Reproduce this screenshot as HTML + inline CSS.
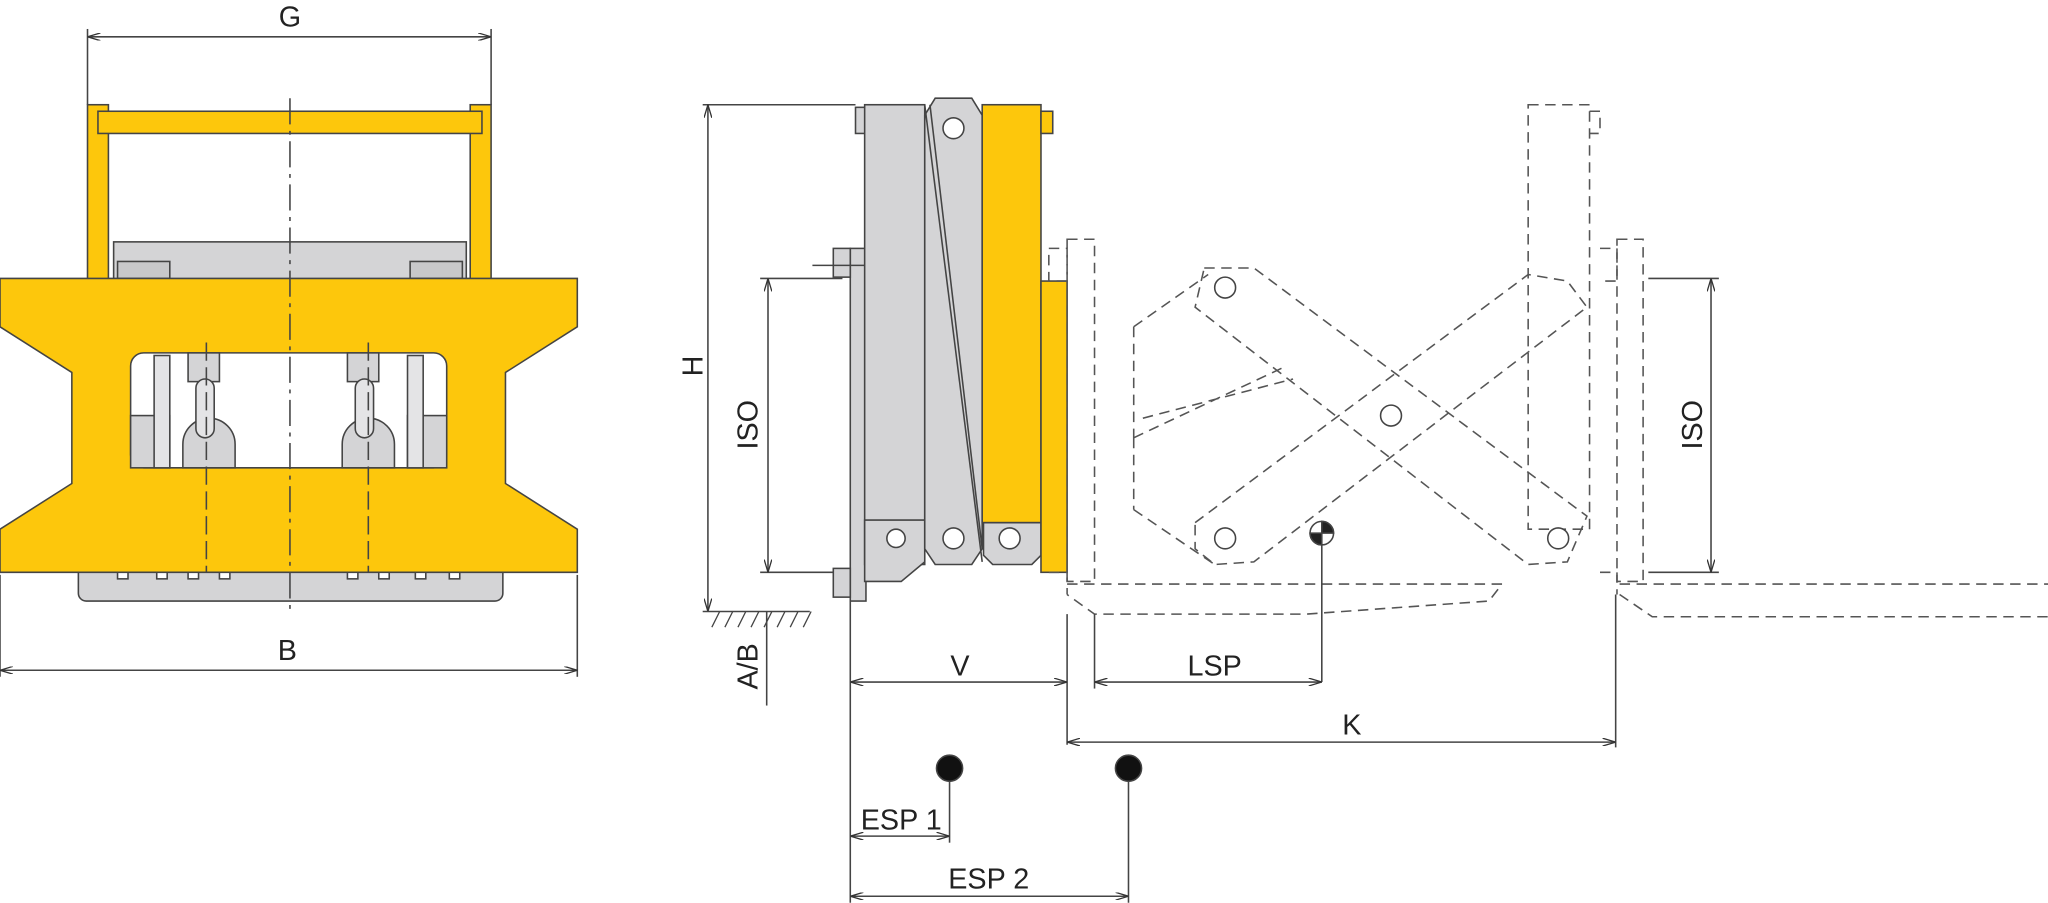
<!DOCTYPE html>
<html><head><meta charset="utf-8"><style>
html,body{margin:0;padding:0;background:#fff;width:2048px;height:903px;overflow:hidden}
svg{display:block}
text{font-family:"Liberation Sans",sans-serif;font-size:22px;fill:#222}
</style></head><body>
<svg width="2048" height="903" viewBox="0 0 1568 691" xmlns="http://www.w3.org/2000/svg">
<defs>
<marker id="a" markerWidth="10" markerHeight="6" refX="10" refY="3" orient="auto-start-reverse" markerUnits="userSpaceOnUse"><path d="M0,0 L10,3 L0,6" fill="none" stroke="#333" stroke-width="1"/></marker>
</defs>
<g stroke="#444" stroke-width="1.2">
<!-- LEFT VIEW -->
<line x1="67" y1="22" x2="67" y2="80"/><line x1="376" y1="22" x2="376" y2="80"/>
<line x1="67" y1="28" x2="376" y2="28" marker-start="url(#a)" marker-end="url(#a)"/>
<rect x="87" y="185" width="270" height="30" fill="#d4d4d6"/>
<rect x="90" y="200" width="40" height="13" fill="#c8c8ca"/><rect x="314" y="200" width="40" height="13" fill="#c8c8ca"/>
<rect x="67" y="80" width="16" height="135" fill="#fdc70c"/>
<rect x="360" y="80" width="16" height="135" fill="#fdc70c"/>
<rect x="75" y="85" width="294" height="17" fill="#fdc70c"/>
<rect x="60" y="430" width="325" height="30" rx="6" fill="#d4d4d6"/>
<path d="M0,213 H442 V250 L387,285 V370 L442,405 V438 H0 V405 L55,370 V285 L0,250 Z" fill="#fdc70c"/>
<rect x="100" y="270" width="242" height="88" rx="10" fill="#fff"/>
<rect x="100" y="318" width="30" height="40" fill="#d4d4d6"/><rect x="312" y="318" width="30" height="40" fill="#d4d4d6"/>
<rect x="118" y="272" width="12" height="86" fill="#e4e4e6"/><rect x="312" y="272" width="12" height="86" fill="#e4e4e6"/>
<rect x="144" y="270" width="24" height="22" fill="#d4d4d6"/><rect x="266" y="270" width="24" height="22" fill="#d4d4d6"/>
<path d="M140,358 V340 a20,20 0 0 1 40,0 V358 Z" fill="#d4d4d6"/>
<path d="M262,358 V340 a20,20 0 0 1 40,0 V358 Z" fill="#d4d4d6"/>
<rect x="150" y="290" width="14" height="45" rx="7" fill="#e4e4e6"/><rect x="272" y="290" width="14" height="45" rx="7" fill="#e4e4e6"/>
<rect x="90" y="438" width="8" height="5" fill="#fff"/><rect x="120" y="438" width="8" height="5" fill="#fff"/><rect x="144" y="438" width="8" height="5" fill="#fff"/><rect x="168" y="438" width="8" height="5" fill="#fff"/>
<rect x="266" y="438" width="8" height="5" fill="#fff"/><rect x="290" y="438" width="8" height="5" fill="#fff"/><rect x="318" y="438" width="8" height="5" fill="#fff"/><rect x="344" y="438" width="8" height="5" fill="#fff"/>
<line x1="222" y1="75" x2="222" y2="470" stroke-dasharray="20,5,3,5"/>
<line x1="158" y1="262" x2="158" y2="438" stroke-dasharray="14,5"/>
<line x1="282" y1="262" x2="282" y2="438" stroke-dasharray="14,5"/>
<line x1="0" y1="440" x2="0" y2="518"/><line x1="442" y1="440" x2="442" y2="518"/>
<line x1="0" y1="513" x2="442" y2="513" marker-start="url(#a)" marker-end="url(#a)"/>

<!-- SIDE VIEW -->
<line x1="538" y1="80" x2="655" y2="80"/>
<line x1="542" y1="80" x2="542" y2="468" marker-start="url(#a)" marker-end="url(#a)"/>
<line x1="538" y1="468" x2="620" y2="468"/>
<path d="M545,480 l6,-12 M555,480 l6,-12 M565,480 l6,-12 M575,480 l6,-12 M585,480 l6,-12 M595,480 l6,-12 M605,480 l6,-12 M615,480 l6,-12" stroke-width="1"/>
<line x1="582" y1="213" x2="645" y2="213"/><line x1="582" y1="438" x2="645" y2="438"/>
<line x1="588" y1="213" x2="588" y2="438" marker-start="url(#a)" marker-end="url(#a)"/>
<line x1="587" y1="468" x2="587" y2="540"/>
<rect x="651" y="190" width="12" height="270" fill="#d4d4d6"/>
<rect x="638" y="190" width="13" height="22" fill="#d4d4d6"/><rect x="638" y="435" width="13" height="22" fill="#d4d4d6"/>
<line x1="622" y1="203" x2="675" y2="203"/>
<rect x="655" y="82" width="8" height="20" fill="#d4d4d6"/>
<rect x="662" y="80" width="46" height="352" fill="#d4d4d6"/>
<path d="M662,398 H708 V430 L690,445 H662 Z" fill="#d4d4d6"/>
<circle cx="686" cy="412" r="7" fill="#fff"/>
<path d="M716,75 H744 L752,88 V420 L744,432 H716 L708,420 V88 Z" fill="#d4d4d6"/>
<line x1="708" y1="80" x2="752" y2="430"/><line x1="712" y1="80" x2="752" y2="420"/>
<circle cx="730" cy="98" r="8" fill="#fff"/><circle cx="730" cy="412" r="8" fill="#fff"/>
<rect x="752" y="80" width="45" height="320" fill="#fdc70c"/>
<rect x="797" y="85" width="9" height="17" fill="#fdc70c"/>
<path d="M753,400 H797 V425 L790,432 H760 L753,425 Z" fill="#d4d4d6"/>
<circle cx="773" cy="412" r="8" fill="#fff"/>
<rect x="797" y="215" width="20" height="223" fill="#fdc70c"/>
<line x1="651" y1="460" x2="651" y2="691"/>
</g>
<g stroke="#555" stroke-width="1.2" fill="none" stroke-dasharray="8,5">
<path d="M817,183 H838 V445 H817 Z"/>
<path d="M803,190 H817 V215 H803 Z"/>
<path d="M803,438 H817 V455"/>
<path d="M817,447 H1150 L1140,460 L1000,470 H838 L817,455"/>
<path d="M922,205 L960,205 L1215,395 L1200,430 L1170,432 L915,235 Z"/>
<path d="M915,400 L1170,210 L1200,215 L1215,235 L960,430 L930,432 L915,420 Z"/>
<path d="M868,250 L925,210 M868,250 V335 M868,335 L985,280 M875,320 L990,290 M868,390 L930,432 M868,335 V390"/>
<path d="M1170,80 H1217 V405 H1170 Z"/>
<path d="M1217,85 H1225 V102 H1217"/>
<path d="M1238,183 H1258 V445 H1238 Z"/>
<path d="M1225,190 H1238 V215 H1225 M1225,438 H1238 V455"/>
<path d="M1240,447 H1568 M1240,455 L1265,472 H1568"/>
</g>
<g stroke="#444" stroke-width="1.2">
<circle cx="938" cy="220" r="8" fill="#fff"/><circle cx="1065" cy="318" r="8" fill="#fff"/>
<circle cx="938" cy="412" r="8" fill="#fff"/><circle cx="1193" cy="412" r="8" fill="#fff"/>
<circle cx="1012" cy="408" r="9" fill="#fff"/>
<path d="M1012,399 A9,9 0 0 1 1021,408 H1012 Z M1012,417 A9,9 0 0 1 1003,408 H1012 Z" fill="#222"/>
<line x1="1012" y1="417" x2="1012" y2="522"/>
<line x1="817" y1="470" x2="817" y2="570"/><line x1="838" y1="470" x2="838" y2="527"/>
<line x1="1237" y1="455" x2="1237" y2="572"/>
<line x1="651" y1="522" x2="817" y2="522" marker-start="url(#a)" marker-end="url(#a)"/>
<line x1="838" y1="522" x2="1012" y2="522" marker-start="url(#a)" marker-end="url(#a)"/>
<line x1="817" y1="568" x2="1237" y2="568" marker-start="url(#a)" marker-end="url(#a)"/>
<line x1="727" y1="588" x2="727" y2="645"/><line x1="864" y1="588" x2="864" y2="691"/>
<line x1="651" y1="640" x2="727" y2="640" marker-start="url(#a)" marker-end="url(#a)"/>
<line x1="651" y1="686" x2="864" y2="686" marker-start="url(#a)" marker-end="url(#a)"/>
<circle cx="727" cy="588" r="10" fill="#111"/><circle cx="864" cy="588" r="10" fill="#111"/>
<line x1="1262" y1="213" x2="1316" y2="213"/><line x1="1262" y1="438" x2="1316" y2="438"/>
<line x1="1310" y1="213" x2="1310" y2="438" marker-start="url(#a)" marker-end="url(#a)"/>
</g>
<text x="222" y="20" text-anchor="middle">G</text>
<text x="220" y="505" text-anchor="middle">B</text>
<text x="735" y="517" text-anchor="middle">V</text>
<text x="930" y="517" text-anchor="middle">LSP</text>
<text x="1035" y="562" text-anchor="middle">K</text>
<text x="690" y="635" text-anchor="middle">ESP 1</text>
<text x="757" y="680" text-anchor="middle">ESP 2</text>
<text transform="translate(538,280) rotate(-90)" text-anchor="middle">H</text>
<text transform="translate(580,325) rotate(-90)" text-anchor="middle">ISO</text>
<text transform="translate(580,510) rotate(-90)" text-anchor="middle">A/B</text>
<text transform="translate(1303,325) rotate(-90)" text-anchor="middle">ISO</text>
</svg>
</body></html>
